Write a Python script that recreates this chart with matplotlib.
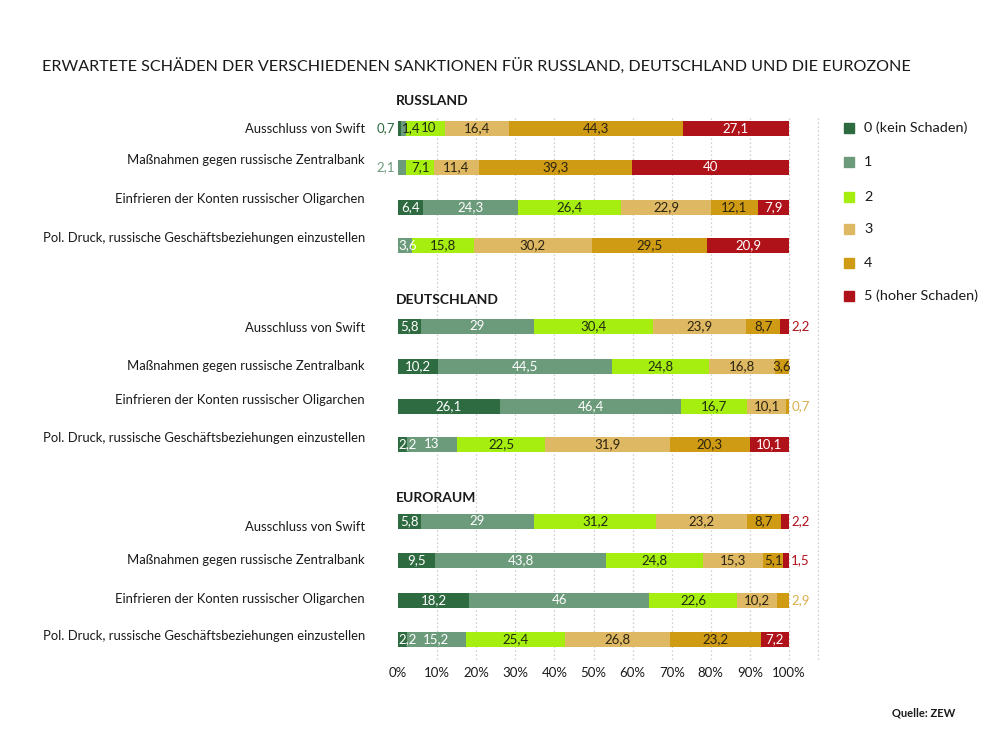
import matplotlib.pyplot as plt

plt.rcParams['font.family'] = ['Lato', 'DejaVu Sans']

# Data (percent shares of answers, levels 0..5)
categories = [
    'Ausschluss von Swift',
    'Maßnahmen gegen russische Zentralbank',
    'Einfrieren der Konten russischer Oligarchen',
    'Pol. Druck, russische Geschäftsbeziehungen einzustellen',
]
regions = ['RUSSLAND', 'DEUTSCHLAND', 'EURORAUM']
levels = ['0 (kein Schaden)', '1', '2', '3', '4', '5 (hoher Schaden)']

russland = [
    [0.7, 1.4, 10, 16.4, 44.3, 27.1],
    [0, 2.1, 7.1, 11.4, 39.3, 40],
    [6.4, 24.3, 26.4, 22.9, 12.1, 7.9],
    [0, 3.6, 15.8, 30.2, 29.5, 20.9],
]
deutschland = [
    [5.8, 29, 30.4, 23.9, 8.7, 2.2],
    [10.2, 44.5, 24.8, 16.8, 3.6, 0],
    [26.1, 46.4, 16.7, 10.1, 0.7, 0],
    [2.2, 13, 22.5, 31.9, 20.3, 10.1],
]
euroraum = [
    [5.8, 29, 31.2, 23.2, 8.7, 2.2],
    [9.5, 43.8, 24.8, 15.3, 5.1, 1.5],
    [18.2, 46, 22.6, 10.2, 2.9, 0],
    [2.2, 15.2, 25.4, 26.8, 23.2, 7.2],
]
all_data = [russland, deutschland, euroraum]
x_ticks = list(range(0, 101, 10))

# Colours
colors = ['#2f6b40', '#6c9b7b', '#a6ee10', '#dfb864', '#cf9a14', '#b0121a']
text_in = ['white', 'white', '#1f2a12', '#2a2410', '#2a2410', 'white']
text_out = ['#2f6b40', '#6c9b7b', '#86b800', '#d9b050', '#d9b050', '#b0121a']

# Layout (pixel rows, top = 0)
region_y = [101, 300, 498]
bar_y = [[128, 167, 207, 245], [326, 366, 406, 444], [521, 560, 600, 639]]
label_y = [[129, 160, 199, 238], [328, 366, 400, 438], [527, 560, 599, 636]]
bar_h = 15


def fmt(v):
    return f'{v:g}'.replace('.', ',')


fig = plt.figure(figsize=(10, 7.5), dpi=100, facecolor='white')
ax = fig.add_axes([0.398, 0, 0.391, 1])
ax.set_xlim(0, 100)
ax.set_ylim(750, 0)
ax.axis('off')

# Dotted grid
for xv in x_ticks[1:] + [107.5]:
    ax.plot([xv, xv], [118, 662], color='#c4c4c4', lw=0.9,
            linestyle=(0, (1, 2.2)), zorder=1, clip_on=False)

for r, (region, data) in enumerate(zip(regions, all_data)):
    ax.text(-0.5, region_y[r], region, fontsize=10, fontweight='bold',
            color='#1a1a1a', va='center', ha='left')
    for i, row in enumerate(data):
        y = bar_y[r][i]
        ax.text(-8.5, label_y[r][i], categories[i], fontsize=9.4, color='#1a1a1a',
                ha='right', va='center')
        nz = [k for k, v in enumerate(row) if v > 0]
        left = 0
        for k, v in enumerate(row):
            if v <= 0:
                continue
            ax.barh(y, v, left=left, height=bar_h, color=colors[k], zorder=2)
            if k == nz[0] and v < 2.2:
                ax.text(-0.8, y, fmt(v), ha='right', va='center', fontsize=9.5,
                        color=text_out[k], zorder=3)
            elif k == nz[-1] and v < 3:
                ax.text(left + v + 0.6, y, fmt(v), ha='left', va='center',
                        fontsize=9.5, color=text_out[k], zorder=3, clip_on=False)
            elif v < 4 and k != nz[-1]:
                tc = '#1f2a12' if v < 2 else text_in[k]
                ax.text(left + 0.2, y, fmt(v), ha='left', va='center',
                        fontsize=9.5, color=tc, zorder=3)
            else:
                ax.text(left + v / 2 + (0.8 if v == 10 else 0), y, fmt(v),
                        ha='center', va='center', fontsize=9.5,
                        color=text_in[k], zorder=3)
            left += v

# x tick labels
for xv in x_ticks:
    ax.text(xv, 673, f'{xv}%', ha='center', va='center', fontsize=9.5,
            color='#1a1a1a')

# Legend
leg_y = [128, 162, 197, 229, 263, 296]
for k, lab in enumerate(levels):
    yy = 1 - leg_y[k] / 750
    fig.patches.append(plt.Rectangle((0.8435, yy - 0.0073), 0.0105, 0.0146,
                                     transform=fig.transFigure, color=colors[k]))
    fig.text(0.864, yy, lab, fontsize=10.4, color='#1a1a1a', va='center', ha='left')

fig.text(0.042, 1 - 66 / 750,
         'ERWARTETE SCHÄDEN DER VERSCHIEDENEN SANKTIONEN FÜR RUSSLAND, DEUTSCHLAND UND DIE EUROZONE',
         fontsize=11.6, color='#1a1a1a', va='center', ha='left')
fig.text(0.955, 1 - 713 / 750, 'Quelle: ZEW', fontsize=8, fontweight='bold',
         color='#1a1a1a', va='center', ha='right')

fig.savefig('out.png', dpi=100, facecolor='white')
